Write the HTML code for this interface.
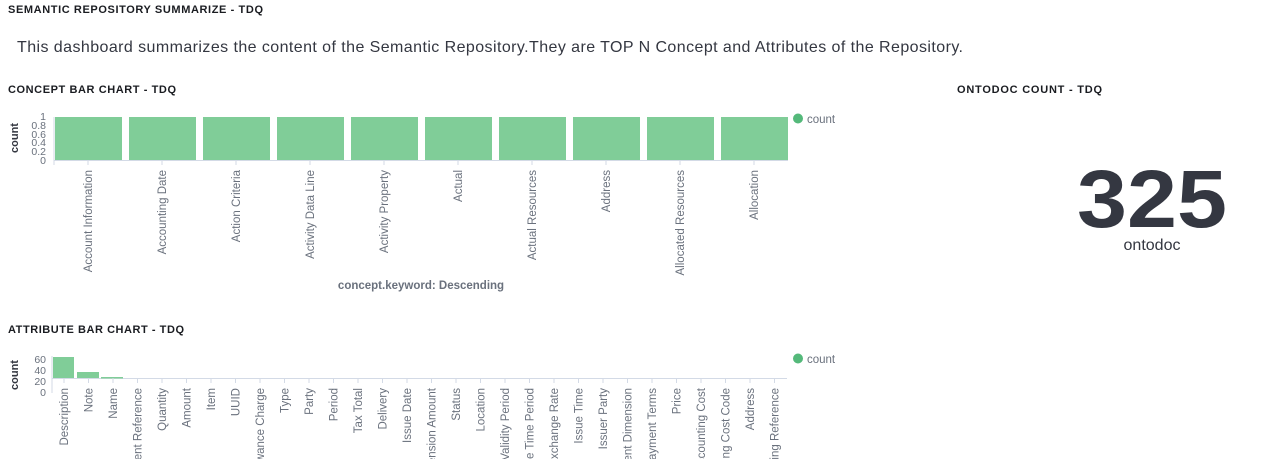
<!DOCTYPE html><html><head><meta charset="utf-8"><style>html,body{margin:0;background:#fff;width:1266px;height:459px;overflow:hidden}svg{display:block;font-family:"Liberation Sans",sans-serif}</style></head><body>
<svg width="1266" height="459" viewBox="0 0 1266 459">
<g font-weight="bold" font-size="11" fill="#1a1c21">
<text x="8" y="13" textLength="255">SEMANTIC REPOSITORY SUMMARIZE - TDQ</text>
<text x="8" y="93" textLength="168">CONCEPT BAR CHART - TDQ</text>
<text x="957" y="93" textLength="145">ONTODOC COUNT - TDQ</text>
<text x="8" y="333" textLength="176">ATTRIBUTE BAR CHART - TDQ</text>
</g>
<text x="17" y="52" font-size="16" fill="#343741" textLength="946">This dashboard summarizes the content of the Semantic Repository.They are TOP N Concept and Attributes of the Repository.</text>
<text x="1152" y="227" font-size="82" font-weight="bold" fill="#343741" text-anchor="middle" textLength="150" lengthAdjust="spacingAndGlyphs">325</text>
<text x="1152" y="250" font-size="16" fill="#343741" text-anchor="middle">ontodoc</text>
<g fill="#6a717d" font-size="11">
<text transform="translate(18,138) rotate(-90)" text-anchor="middle" font-weight="bold" fill="#343741">count</text>
<g text-anchor="end" font-size="10.5"><text x="46" y="164">0</text><text x="46" y="155">0.2</text><text x="46" y="146">0.4</text><text x="46" y="138">0.6</text><text x="46" y="129">0.8</text><text x="46" y="120">1</text></g>
</g>
<line x1="54" y1="117" x2="54" y2="165" stroke="#d3dae6"/>
<line x1="54" y1="160.5" x2="788" y2="160.5" stroke="#d3dae6"/>
<g fill="#80cd98">
<rect x="55" y="117" width="67" height="43"/><rect x="129" y="117" width="67" height="43"/><rect x="203" y="117" width="67" height="43"/><rect x="277" y="117" width="67" height="43"/><rect x="351" y="117" width="67" height="43"/><rect x="425" y="117" width="67" height="43"/><rect x="499" y="117" width="67" height="43"/><rect x="573" y="117" width="67" height="43"/><rect x="647" y="117" width="67" height="43"/><rect x="721" y="117" width="67" height="43"/>
</g>
<g stroke="#d3dae6"><line x1="88" y1="160" x2="88" y2="165"/><line x1="162" y1="160" x2="162" y2="165"/><line x1="236" y1="160" x2="236" y2="165"/><line x1="310" y1="160" x2="310" y2="165"/><line x1="384" y1="160" x2="384" y2="165"/><line x1="458" y1="160" x2="458" y2="165"/><line x1="532" y1="160" x2="532" y2="165"/><line x1="606" y1="160" x2="606" y2="165"/><line x1="680" y1="160" x2="680" y2="165"/><line x1="754" y1="160" x2="754" y2="165"/></g>
<g fill="#6a717d" font-size="11.5" text-anchor="end">
<text transform="translate(92,170) rotate(-90)">Account Information</text>
<text transform="translate(166,170) rotate(-90)">Accounting Date</text>
<text transform="translate(240,170) rotate(-90)">Action Criteria</text>
<text transform="translate(314,170) rotate(-90)">Activity Data Line</text>
<text transform="translate(388,170) rotate(-90)">Activity Property</text>
<text transform="translate(462,170) rotate(-90)">Actual</text>
<text transform="translate(536,170) rotate(-90)">Actual Resources</text>
<text transform="translate(610,170) rotate(-90)">Address</text>
<text transform="translate(684,170) rotate(-90)">Allocated Resources</text>
<text transform="translate(758,170) rotate(-90)">Allocation</text>
</g>
<text x="421" y="289" font-size="11.5" font-weight="bold" fill="#6a717d" text-anchor="middle">concept.keyword: Descending</text>
<circle cx="798" cy="118.5" r="5" fill="#54b97a"/><text x="807" y="123" font-size="11.5" fill="#6a717d">count</text>
<circle cx="798" cy="358.5" r="5" fill="#54b97a"/><text x="807" y="363" font-size="11.5" fill="#6a717d">count</text>
<text transform="translate(18,375) rotate(-90)" text-anchor="middle" font-weight="bold" font-size="11" fill="#343741">count</text>
<g text-anchor="end" font-size="10.5" fill="#6a717d"><text x="46" y="396">0</text><text x="46" y="385">20</text><text x="46" y="374">40</text><text x="46" y="363">60</text></g>
<line x1="52" y1="356" x2="52" y2="393" stroke="#d3dae6"/>
<line x1="52" y1="378.5" x2="787" y2="378.5" stroke="#d3dae6"/>
<g fill="#80cd98"><rect x="53" y="357" width="21" height="21"/><rect x="77" y="372" width="22" height="6"/><rect x="101" y="377" width="22" height="1.5"/></g>
<g id="ticks" stroke="#d3dae6"></g>
<g id="al" fill="#6a717d" font-size="11.5" text-anchor="end"></g>
</svg>
<script>
var n=["Description","Note","Name","Additional Document Reference","Quantity","Amount","Item","UUID","Allowance Charge","Type","Party","Period","Tax Total","Delivery","Issue Date","Dimension Amount","Status","Location","Validity Period","Response Time Period","Exchange Rate","Issue Time","Issuer Party","Measurement Dimension","Payment Terms","Price","Accounting Cost","Accounting Cost Code","Address","Billing Reference"];
var t=document.getElementById('ticks'),a=document.getElementById('al'),ns="http://www.w3.org/2000/svg";
for(var i=0;i<30;i++){var x=64+i*24.5;var l=document.createElementNS(ns,'line');l.setAttribute('x1',x);l.setAttribute('x2',x);l.setAttribute('y1',378);l.setAttribute('y2',383);t.appendChild(l);
var e=document.createElementNS(ns,'text');e.setAttribute('transform','translate('+(x+4)+',388) rotate(-90)');e.textContent=n[i];a.appendChild(e);}
</script>
</body></html>
